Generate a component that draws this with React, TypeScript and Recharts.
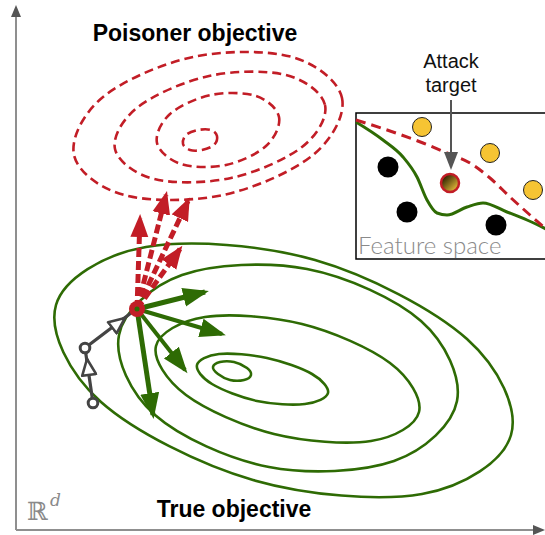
import { ComposedChart, Line, Scatter, XAxis, YAxis, ReferenceArea } from "recharts";

const W = 545;
const H = 535;
const RED = "#c21d26";
const GREEN = "#2e6b04";
const GRAY = "#444444";

// poisoner objective contours (dashed), outer -> inner
const poisonerRing1 = [[342, 98], [313, 155], [223, 195], [124, 195], [74, 155], [103, 97], [193, 57], [292, 57]];
const poisonerRing2 = [[325, 105], [302, 147], [231, 178], [154, 179], [115, 149], [138, 107], [209, 76], [286, 75]];
const poisonerRing3 = [[279, 117], [266, 146], [226, 165], [181, 164], [157, 143], [170, 114], [211, 95], [256, 96]];
const poisonerRing4 = [[217, 136], [214, 145], [202, 150], [190, 150], [183, 144], [186, 135], [198, 130], [211, 130]];

// true objective contours, outer -> inner
const trueRing1 = [[511, 435], [422, 494], [253, 480], [101, 402], [56, 305], [146, 247], [315, 260], [467, 339]];
const trueRing2 = [[457, 401], [394, 461], [269, 467], [155, 415], [119, 335], [182, 275], [307, 269], [421, 321]];
const trueRing3 = [[419, 412], [371, 441], [274, 434], [186, 395], [156, 346], [205, 317], [302, 324], [390, 363]];
const trueRing4 = [[328, 393], [305, 404], [257, 401], [212, 384], [197, 365], [219, 354], [267, 358], [312, 374]];
const trueRing5 = [[251, 375], [244, 380], [230, 380], [218, 374], [213, 367], [220, 362], [234, 362], [247, 368]];

const startPoint = [137, 309];
const greenArrowTips = [[205, 292], [222, 334], [185, 370], [153, 415]];
const redArrowTips = [[140, 218], [166, 195], [188, 201], [180, 249]];
const grayPath = [[93, 403], [85, 348], [131, 313]];
const grayHeads = [
  [[89, 374], [87, 359]],
  [[112, 328], [125, 318]],
];

const insetBox = [356, 548, 113, 259];
const greenBoundary = [[356, 122], [383, 140], [403, 157], [417, 177], [427, 200], [437, 213], [447, 215], [467, 207], [483, 203], [507, 212], [527, 220], [546, 229]];
const redBoundary = [[356, 120], [390, 131], [423, 143], [447, 153], [470, 163], [490, 178], [510, 197], [530, 215], [546, 229]];
const yellowPoints = [[422, 127], [490, 153], [533, 190]];
const blackPoints = [[388, 167], [407, 212], [496, 225]];
const attackTarget = [[450, 183]];
const attackArrow = [[451, 100], [451, 166]];

const axisY = [[16, 530], [16, 9]];
const axisX = [[16, 530], [541, 530]];

const labels = [
  { x: 195, y: 41, text: "Poisoner objective", kind: "title" },
  { x: 234, y: 517, text: "True objective", kind: "title" },
  { x: 451, y: 68, text: "Attack", kind: "note" },
  { x: 451, y: 92, text: "target", kind: "note" },
  { x: 358, y: 254, text: "Feature space", kind: "inset" },
  { x: 27, y: 520, text: "ℝ", kind: "space" },
  { x: 50, y: 506, text: "d", kind: "power" },
];

const pts = (a: number[][]) => a.map(([x, y]) => ({ x, y }));

// closed Catmull-Rom curve through the points (d3 curve interface)
const closedSpline = (context: any) => {
  let p: number[][] = [];
  return {
    areaStart() {},
    areaEnd() {},
    lineStart() {
      p = [];
    },
    point(x: number, y: number) {
      p.push([+x, +y]);
    },
    lineEnd() {
      const n = p.length;
      if (n < 3) return;
      context.moveTo(p[0][0], p[0][1]);
      for (let i = 0; i < n; i++) {
        const a = p[(i + n - 1) % n];
        const b = p[i];
        const c = p[(i + 1) % n];
        const d = p[(i + 2) % n];
        context.bezierCurveTo(
          b[0] + (c[0] - a[0]) / 6,
          b[1] + (c[1] - a[1]) / 6,
          c[0] - (d[0] - b[0]) / 6,
          c[1] - (d[1] - b[1]) / 6,
          c[0],
          c[1]
        );
      }
      context.closePath();
    },
  };
};

const labelStyle: Record<string, any> = {
  title: { fontFamily: "'Liberation Sans', Arial, sans-serif", fontWeight: 700, fontSize: 23, fill: "#000", textAnchor: "middle" },
  note: { fontFamily: "'Liberation Sans', Arial, sans-serif", fontSize: 20, fill: "#111", textAnchor: "middle" },
  inset: { fontFamily: "Lato, 'Open Sans', sans-serif", fontWeight: 300, fontSize: 24, fill: "#8a8a8a", textAnchor: "start" },
  space: { fontFamily: "'DejaVu Serif', 'DejaVu Sans', serif", fontSize: 25, fill: "#8a8a8a", textAnchor: "start" },
  power: { fontFamily: "'DejaVu Serif', serif", fontStyle: "italic", fontSize: 17, fill: "#8a8a8a", textAnchor: "start" },
};

const greenWidths = [5, 4, 4, 5];

export default function App() {
  const poisonerRings = [poisonerRing1, poisonerRing2, poisonerRing3, poisonerRing4];
  const trueRings = [trueRing1, trueRing2, trueRing3, trueRing4, trueRing5];
  const common = { dataKey: "y", dot: false, activeDot: false, isAnimationActive: false } as const;

  return (
    <div style={{ width: W, height: H, position: "relative", background: "#fff" }}>
      <style>{"body{margin:0}"}</style>
      <svg width={0} height={0} style={{ position: "absolute" }}>
        <defs>
          <marker id="headGreen" markerUnits="userSpaceOnUse" markerWidth={27} markerHeight={21} refX={22} refY={10.5} orient="auto">
            <path d="M0,1 L26,10.5 L0,20 Z" fill={GREEN} />
          </marker>
          <marker id="headRed" markerUnits="userSpaceOnUse" markerWidth={24} markerHeight={19} refX={19} refY={9.5} orient="auto">
            <path d="M0,0.5 L23,9.5 L0,18.5 Z" fill={RED} />
          </marker>
          <marker id="headOpen" markerUnits="userSpaceOnUse" markerWidth={20} markerHeight={17} refX={17.5} refY={8.5} orient="auto">
            <path d="M1.5,1.5 L17.5,8.5 L1.5,15.5 Z" fill="#fff" stroke={GRAY} strokeWidth={2.6} strokeLinejoin="round" />
          </marker>
          <marker id="headAttack" markerUnits="userSpaceOnUse" markerWidth={18} markerHeight={14} refX={14} refY={7} orient="auto">
            <path d="M0,0 L18,7 L0,14 Z" fill="#555" />
          </marker>
          <marker id="headAxis" markerUnits="userSpaceOnUse" markerWidth={12} markerHeight={10} refX={8} refY={5} orient="auto">
            <path d="M0,0 L12,5 L0,10 Z" fill="#555" />
          </marker>
          <linearGradient id="targetFill" x1="0.15" y1="0.15" x2="0.85" y2="0.85">
            <stop offset="0" stopColor="#2a1f00" />
            <stop offset="1" stopColor="#e3b83a" />
          </linearGradient>
        </defs>
      </svg>
      <ComposedChart width={W} height={H} margin={{ top: 0, right: 0, bottom: 0, left: 0 }}>
        <XAxis type="number" dataKey="x" domain={[0, W]} allowDataOverflow hide />
        <YAxis type="number" dataKey="y" domain={[0, H]} allowDataOverflow reversed hide />

        <Line {...common} data={pts(axisY)} stroke="#8f8f8f" strokeWidth={2} markerEnd="url(#headAxis)" />
        <Line {...common} data={pts(axisX)} stroke="#8f8f8f" strokeWidth={2} markerEnd="url(#headAxis)" />

        {trueRings.map((r, i) => (
          <Line key={"t" + i} {...common} data={pts(r)} type={closedSpline as any} stroke={GREEN} strokeWidth={2.6} />
        ))}
        {poisonerRings.map((r, i) => (
          <Line key={"p" + i} {...common} data={pts(r)} type={closedSpline as any} stroke={RED} strokeWidth={2.6} strokeDasharray="9 5" />
        ))}

        <Line {...common} data={pts(grayPath)} stroke={GRAY} strokeWidth={3.2} />
        {grayHeads.map((h, i) => (
          <Line key={"g" + i} {...common} data={pts(h)} stroke={GRAY} strokeWidth={3.2} markerEnd="url(#headOpen)" />
        ))}

        {greenArrowTips.map((t, i) => (
          <Line key={"ga" + i} {...common} data={pts([startPoint, t])} stroke={GREEN} strokeWidth={greenWidths[i]} markerEnd="url(#headGreen)" />
        ))}
        {redArrowTips.map((t, i) => (
          <Line key={"ra" + i} {...common} data={pts([startPoint, t])} stroke={RED} strokeWidth={5} strokeDasharray="9 4" markerEnd="url(#headRed)" />
        ))}

        <ReferenceArea x1={insetBox[0]} x2={insetBox[1]} y1={insetBox[2]} y2={insetBox[3]} fill="none" stroke="#000" strokeWidth={1.5} fillOpacity={0} strokeOpacity={1} ifOverflow="visible" />
        <Line {...common} data={pts(greenBoundary)} type="monotoneX" stroke={GREEN} strokeWidth={3} />
        <Line {...common} data={pts(redBoundary)} type="monotoneX" stroke={RED} strokeWidth={3} strokeDasharray="10 6" />
        <Line {...common} data={pts(attackArrow)} stroke="#555" strokeWidth={2} markerEnd="url(#headAttack)" />

        <Scatter
          data={pts(yellowPoints)}
          isAnimationActive={false}
          shape={(p: any) => <circle cx={p.cx} cy={p.cy} r={9.5} fill="#f6c433" stroke="#222" strokeWidth={1} />}
        />
        <Scatter
          data={pts(blackPoints)}
          isAnimationActive={false}
          shape={(p: any) => <circle cx={p.cx} cy={p.cy} r={10.5} fill="#000" />}
        />
        <Scatter
          data={pts(attackTarget)}
          isAnimationActive={false}
          shape={(p: any) => <circle cx={p.cx} cy={p.cy} r={9} fill="url(#targetFill)" stroke={RED} strokeWidth={2.5} />}
        />
        <Scatter
          data={pts(grayPath.slice(0, 2))}
          isAnimationActive={false}
          shape={(p: any) => <circle cx={p.cx} cy={p.cy} r={4.8} fill="#fff" stroke={GRAY} strokeWidth={3} />}
        />
        <Scatter
          data={pts([startPoint])}
          isAnimationActive={false}
          shape={(p: any) => (
            <g>
              <circle cx={p.cx} cy={p.cy} r={8} fill={RED} />
              <circle cx={p.cx} cy={p.cy} r={2.5} fill={GREEN} />
            </g>
          )}
        />
        <Scatter
          data={labels}
          isAnimationActive={false}
          shape={(p: any) => (
            <text x={p.cx} y={p.cy} {...labelStyle[p.payload.kind]}>
              {p.payload.text}
            </text>
          )}
        />
      </ComposedChart>
    </div>
  );
}
